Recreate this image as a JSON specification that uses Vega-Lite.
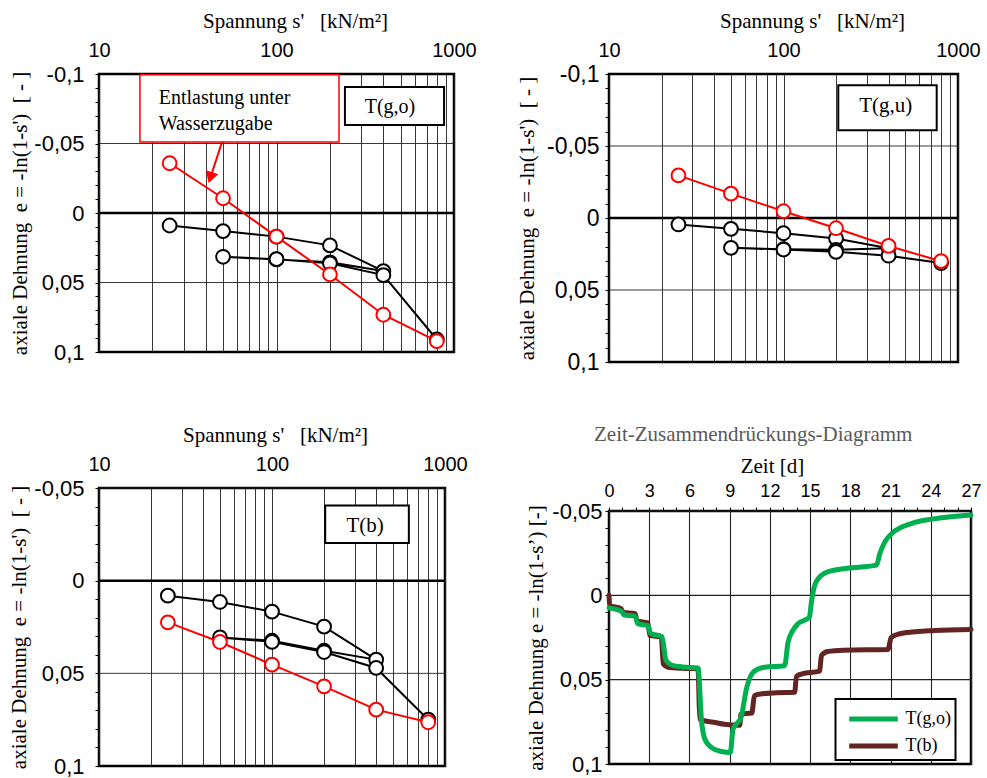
{
  "$schema": "https://vega.github.io/schema/vega-lite/v6.json",
  "padding": {"left": 7, "top": 8, "right": 5, "bottom": 5},
  "background": "white",
  "config": {
    "view": {"stroke": "#000", "strokeWidth": 2.5},
    "font": "Liberation Serif",
    "axis": {"labelFont": "Liberation Sans", "labelFontSize": 20, "labelColor": "#000", "titleFont": "Liberation Serif", "titleFontSize": 21, "titleFontWeight": "normal", "titleColor": "#000", "gridColor": "#222", "tickColor": "#000", "domain": false, "labelOverlap": false, "labelFlush": false, "labelBound": false},
    "legend": {"strokeWidth": 2}
  },
  "datasets": {
    "p1": [
      {"grp": "schwarz", "o": 1, "s": 25, "e": 0.009},
      {"grp": "schwarz", "o": 2, "s": 50, "e": 0.013},
      {"grp": "schwarz", "o": 3, "s": 100, "e": 0.017},
      {"grp": "schwarz", "o": 4, "s": 200, "e": 0.0233},
      {"grp": "schwarz", "o": 5, "s": 400, "e": 0.0418},
      {"grp": "schwarz", "o": 6, "s": 200, "e": 0.0355},
      {"grp": "schwarz", "o": 7, "s": 100, "e": 0.0334},
      {"grp": "schwarz", "o": 8, "s": 50, "e": 0.0315},
      {"grp": "schwarz", "o": 9, "s": 100, "e": 0.0332},
      {"grp": "schwarz", "o": 10, "s": 200, "e": 0.0362},
      {"grp": "schwarz", "o": 11, "s": 400, "e": 0.0447},
      {"grp": "schwarz", "o": 12, "s": 800, "e": 0.091},
      {"grp": "rot", "o": 1, "s": 25, "e": -0.0358},
      {"grp": "rot", "o": 2, "s": 50, "e": -0.0106},
      {"grp": "rot", "o": 3, "s": 100, "e": 0.017},
      {"grp": "rot", "o": 4, "s": 200, "e": 0.0442},
      {"grp": "rot", "o": 5, "s": 400, "e": 0.0732},
      {"grp": "rot", "o": 6, "s": 800, "e": 0.0922}
    ],
    "p2": [
      {"grp": "schwarz", "o": 1, "s": 25, "e": 0.0045},
      {"grp": "schwarz", "o": 2, "s": 50, "e": 0.0075},
      {"grp": "schwarz", "o": 3, "s": 100, "e": 0.0106},
      {"grp": "schwarz", "o": 4, "s": 200, "e": 0.0142},
      {"grp": "schwarz", "o": 5, "s": 400, "e": 0.021},
      {"grp": "schwarz", "o": 6, "s": 200, "e": 0.0221},
      {"grp": "schwarz", "o": 7, "s": 100, "e": 0.0217},
      {"grp": "schwarz", "o": 8, "s": 50, "e": 0.0207},
      {"grp": "schwarz", "o": 9, "s": 100, "e": 0.0219},
      {"grp": "schwarz", "o": 10, "s": 200, "e": 0.0235},
      {"grp": "schwarz", "o": 11, "s": 400, "e": 0.0262},
      {"grp": "schwarz", "o": 12, "s": 800, "e": 0.0313},
      {"grp": "rot", "o": 1, "s": 25, "e": -0.0296},
      {"grp": "rot", "o": 2, "s": 50, "e": -0.0169},
      {"grp": "rot", "o": 3, "s": 100, "e": -0.0047},
      {"grp": "rot", "o": 4, "s": 200, "e": 0.0071},
      {"grp": "rot", "o": 5, "s": 400, "e": 0.0194},
      {"grp": "rot", "o": 6, "s": 800, "e": 0.03}
    ],
    "p3": [
      {"grp": "schwarz", "o": 1, "s": 25, "e": 0.0081},
      {"grp": "schwarz", "o": 2, "s": 50, "e": 0.0115},
      {"grp": "schwarz", "o": 3, "s": 100, "e": 0.0167},
      {"grp": "schwarz", "o": 4, "s": 200, "e": 0.0248},
      {"grp": "schwarz", "o": 5, "s": 400, "e": 0.0426},
      {"grp": "schwarz", "o": 6, "s": 200, "e": 0.0378},
      {"grp": "schwarz", "o": 7, "s": 100, "e": 0.0324},
      {"grp": "schwarz", "o": 8, "s": 50, "e": 0.0306},
      {"grp": "schwarz", "o": 9, "s": 100, "e": 0.033},
      {"grp": "schwarz", "o": 10, "s": 200, "e": 0.0385},
      {"grp": "schwarz", "o": 11, "s": 400, "e": 0.0471},
      {"grp": "schwarz", "o": 12, "s": 800, "e": 0.075},
      {"grp": "rot", "o": 1, "s": 25, "e": 0.0225},
      {"grp": "rot", "o": 2, "s": 50, "e": 0.0331},
      {"grp": "rot", "o": 3, "s": 100, "e": 0.0453},
      {"grp": "rot", "o": 4, "s": 200, "e": 0.057},
      {"grp": "rot", "o": 5, "s": 400, "e": 0.0696},
      {"grp": "rot", "o": 6, "s": 800, "e": 0.0764}
    ],
    "gitter": [{"e": -0.05}, {"e": 0.05}],
    "null": [{"e": 0}],
    "zeit": [
      {"serie": "T(b)", "t": 0, "e": 0},
      {"serie": "T(b)", "t": 0.05, "e": 0.006},
      {"serie": "T(b)", "t": 0.9, "e": 0.0079},
      {"serie": "T(b)", "t": 1.05, "e": 0.01},
      {"serie": "T(b)", "t": 1.95, "e": 0.0109},
      {"serie": "T(b)", "t": 2.1, "e": 0.0152},
      {"serie": "T(b)", "t": 2.9, "e": 0.0163},
      {"serie": "T(b)", "t": 3.05, "e": 0.0238},
      {"serie": "T(b)", "t": 3.9, "e": 0.0248},
      {"serie": "T(b)", "t": 4.05, "e": 0.0407},
      {"serie": "T(b)", "t": 4.4, "e": 0.0426},
      {"serie": "T(b)", "t": 5.5, "e": 0.0433},
      {"serie": "T(b)", "t": 6.64, "e": 0.0436},
      {"serie": "T(b)", "t": 6.77, "e": 0.0734},
      {"serie": "T(b)", "t": 7.2, "e": 0.0745},
      {"serie": "T(b)", "t": 7.9, "e": 0.0754},
      {"serie": "T(b)", "t": 8.6, "e": 0.0764},
      {"serie": "T(b)", "t": 9.75, "e": 0.077},
      {"serie": "T(b)", "t": 9.85, "e": 0.0704},
      {"serie": "T(b)", "t": 10.65, "e": 0.0698},
      {"serie": "T(b)", "t": 10.85, "e": 0.0595},
      {"serie": "T(b)", "t": 11.3, "e": 0.0585},
      {"serie": "T(b)", "t": 12.5, "e": 0.0578},
      {"serie": "T(b)", "t": 13.85, "e": 0.0575},
      {"serie": "T(b)", "t": 13.98, "e": 0.048},
      {"serie": "T(b)", "t": 14.4, "e": 0.0466},
      {"serie": "T(b)", "t": 15.7, "e": 0.045},
      {"serie": "T(b)", "t": 15.85, "e": 0.0357},
      {"serie": "T(b)", "t": 16.3, "e": 0.0333},
      {"serie": "T(b)", "t": 17.5, "e": 0.0325},
      {"serie": "T(b)", "t": 20.8, "e": 0.0321},
      {"serie": "T(b)", "t": 21.05, "e": 0.025},
      {"serie": "T(b)", "t": 21.5, "e": 0.0232},
      {"serie": "T(b)", "t": 22.1, "e": 0.0222},
      {"serie": "T(b)", "t": 24.3, "e": 0.0208},
      {"serie": "T(b)", "t": 27, "e": 0.0202},
      {"serie": "T(g,o)", "t": 0, "e": 0.0075},
      {"serie": "T(g,o)", "t": 0.95, "e": 0.0095},
      {"serie": "T(g,o)", "t": 1.1, "e": 0.0115},
      {"serie": "T(g,o)", "t": 1.95, "e": 0.0125},
      {"serie": "T(g,o)", "t": 2.15, "e": 0.0168},
      {"serie": "T(g,o)", "t": 2.9, "e": 0.018},
      {"serie": "T(g,o)", "t": 3.1, "e": 0.0225},
      {"serie": "T(g,o)", "t": 3.95, "e": 0.0245},
      {"serie": "T(g,o)", "t": 4.25, "e": 0.0385},
      {"serie": "T(g,o)", "t": 4.65, "e": 0.0413},
      {"serie": "T(g,o)", "t": 5.5, "e": 0.0425},
      {"serie": "T(g,o)", "t": 6.64, "e": 0.043},
      {"serie": "T(g,o)", "t": 6.9, "e": 0.0744},
      {"serie": "T(g,o)", "t": 7.15, "e": 0.0853},
      {"serie": "T(g,o)", "t": 7.65, "e": 0.0903},
      {"serie": "T(g,o)", "t": 8.4, "e": 0.0926},
      {"serie": "T(g,o)", "t": 9.05, "e": 0.0932},
      {"serie": "T(g,o)", "t": 9.25, "e": 0.0793},
      {"serie": "T(g,o)", "t": 9.85, "e": 0.0724},
      {"serie": "T(g,o)", "t": 10.25, "e": 0.0555},
      {"serie": "T(g,o)", "t": 10.75, "e": 0.0456},
      {"serie": "T(g,o)", "t": 11.6, "e": 0.0426},
      {"serie": "T(g,o)", "t": 13.1, "e": 0.0417},
      {"serie": "T(g,o)", "t": 13.35, "e": 0.028},
      {"serie": "T(g,o)", "t": 13.7, "e": 0.021},
      {"serie": "T(g,o)", "t": 14.1, "e": 0.0168},
      {"serie": "T(g,o)", "t": 14.95, "e": 0.0129},
      {"serie": "T(g,o)", "t": 15.1, "e": 0.0039},
      {"serie": "T(g,o)", "t": 15.45, "e": -0.008},
      {"serie": "T(g,o)", "t": 16.3, "e": -0.0139},
      {"serie": "T(g,o)", "t": 18.1, "e": -0.0163},
      {"serie": "T(g,o)", "t": 19.95, "e": -0.0179},
      {"serie": "T(g,o)", "t": 20.2, "e": -0.0248},
      {"serie": "T(g,o)", "t": 20.6, "e": -0.032},
      {"serie": "T(g,o)", "t": 21.1, "e": -0.0367},
      {"serie": "T(g,o)", "t": 22.6, "e": -0.0427},
      {"serie": "T(g,o)", "t": 24.1, "e": -0.0452},
      {"serie": "T(g,o)", "t": 27, "e": -0.0476}
    ]
  },
  "spacing": 37,
  "hconcat": [
    {
      "spacing": 57,
      "columns": 1,
      "concat": [
        {
          "width": 355, "height": 278,
          "layer": [
            {
              "data": {"name": "gitter"},
              "mark": {"type": "rule", "color": "#222", "strokeWidth": 0.9},
              "encoding": {
                "y": {"field": "e", "type": "quantitative", "scale": {"domain": [-0.1, 0.1], "reverse": true, "nice": false, "zero": false},
                  "axis": {"title": "axiale Dehnung\u00a0 e = -ln(1-s')\u00a0 [ - ]", "values": [-0.1,-0.09,-0.08,-0.07,-0.06,-0.05,-0.04,-0.03,-0.02,-0.01,0,0.01,0.02,0.03,0.04,0.05,0.06,0.07,0.08,0.09,0.1], "labelExpr": "indexof([-0.1,-0.05,0,0.05,0.1], datum.value) >= 0 ? replace(toString(datum.value), '.', ',') : ''", "labelOverlap": false, "labelFontSize": 22, "tickSize": 4, "labelPadding": 11, "titlePadding": 3.5, "grid": false}}
              }
            },
            {
              "data": {"name": "null"},
              "mark": {"type": "rule", "color": "#000", "strokeWidth": 2.5},
              "encoding": {"y": {"field": "e", "type": "quantitative",
                  "axis": {"title": "axiale Dehnung\u00a0 e = -ln(1-s')\u00a0 [ - ]", "values": [-0.1,-0.09,-0.08,-0.07,-0.06,-0.05,-0.04,-0.03,-0.02,-0.01,0,0.01,0.02,0.03,0.04,0.05,0.06,0.07,0.08,0.09,0.1], "labelExpr": "indexof([-0.1,-0.05,0,0.05,0.1], datum.value) >= 0 ? replace(toString(datum.value), '.', ',') : ''", "labelOverlap": false, "labelFontSize": 22, "tickSize": 4, "labelPadding": 11, "titlePadding": 3.5, "grid": false}}}
            },
            {
              "data": {"name": "p1"},
              "transform": [{"filter": "datum.grp == 'schwarz'"}],
              "mark": {"type": "line", "strokeWidth": 2, "color": "#000"},
              "encoding": {
                "x": {"field": "s", "type": "quantitative", "scale": {"type": "log", "domain": [10, 1000], "nice": false},
                  "axis": {"orient": "top", "title": "Spannung s'\u00a0\u00a0 [kN/m²]", "titleX": 196, "values": [10,20,30,40,50,60,70,80,90,100,200,300,400,500,600,700,800,900,1000], "labelExpr": "datum.value == 10 || datum.value == 100 || datum.value == 1000 ? toString(datum.value) : ''", "labelOverlap": false, "ticks": false, "labelPadding": 14, "titlePadding": 9, "grid": true, "gridWidth": 0.9}},
                "y": {"field": "e", "type": "quantitative",
                  "axis": {"title": "axiale Dehnung\u00a0 e = -ln(1-s')\u00a0 [ - ]", "values": [-0.1,-0.09,-0.08,-0.07,-0.06,-0.05,-0.04,-0.03,-0.02,-0.01,0,0.01,0.02,0.03,0.04,0.05,0.06,0.07,0.08,0.09,0.1], "labelExpr": "indexof([-0.1,-0.05,0,0.05,0.1], datum.value) >= 0 ? replace(toString(datum.value), '.', ',') : ''", "labelOverlap": false, "labelFontSize": 22, "tickSize": 4, "labelPadding": 11, "titlePadding": 3.5, "grid": false}},
                "order": {"field": "o"}
              }
            },
            {
              "data": {"name": "p1"},
              "transform": [{"filter": "datum.grp == 'schwarz'"}],
              "mark": {"type": "point", "shape": "circle", "filled": false, "fill": "white", "fillOpacity": 1, "opacity": 1, "stroke": "#000", "strokeWidth": 2, "size": 190},
              "encoding": {
                "x": {"field": "s", "type": "quantitative",
                  "axis": {"orient": "top", "title": "Spannung s'\u00a0\u00a0 [kN/m²]", "titleX": 196, "values": [10,20,30,40,50,60,70,80,90,100,200,300,400,500,600,700,800,900,1000], "labelExpr": "datum.value == 10 || datum.value == 100 || datum.value == 1000 ? toString(datum.value) : ''", "labelOverlap": false, "ticks": false, "labelPadding": 14, "titlePadding": 9, "grid": true, "gridWidth": 0.9}},
                "y": {"field": "e", "type": "quantitative",
                  "axis": {"title": "axiale Dehnung\u00a0 e = -ln(1-s')\u00a0 [ - ]", "values": [-0.1,-0.09,-0.08,-0.07,-0.06,-0.05,-0.04,-0.03,-0.02,-0.01,0,0.01,0.02,0.03,0.04,0.05,0.06,0.07,0.08,0.09,0.1], "labelExpr": "indexof([-0.1,-0.05,0,0.05,0.1], datum.value) >= 0 ? replace(toString(datum.value), '.', ',') : ''", "labelOverlap": false, "labelFontSize": 22, "tickSize": 4, "labelPadding": 11, "titlePadding": 3.5, "grid": false}}
              }
            },
            {
              "data": {"name": "p1"},
              "transform": [{"filter": "datum.grp == 'rot'"}],
              "mark": {"type": "line", "strokeWidth": 2, "color": "#ff0000"},
              "encoding": {
                "x": {"field": "s", "type": "quantitative",
                  "axis": {"orient": "top", "title": "Spannung s'\u00a0\u00a0 [kN/m²]", "titleX": 196, "values": [10,20,30,40,50,60,70,80,90,100,200,300,400,500,600,700,800,900,1000], "labelExpr": "datum.value == 10 || datum.value == 100 || datum.value == 1000 ? toString(datum.value) : ''", "labelOverlap": false, "ticks": false, "labelPadding": 14, "titlePadding": 9, "grid": true, "gridWidth": 0.9}},
                "y": {"field": "e", "type": "quantitative",
                  "axis": {"title": "axiale Dehnung\u00a0 e = -ln(1-s')\u00a0 [ - ]", "values": [-0.1,-0.09,-0.08,-0.07,-0.06,-0.05,-0.04,-0.03,-0.02,-0.01,0,0.01,0.02,0.03,0.04,0.05,0.06,0.07,0.08,0.09,0.1], "labelExpr": "indexof([-0.1,-0.05,0,0.05,0.1], datum.value) >= 0 ? replace(toString(datum.value), '.', ',') : ''", "labelOverlap": false, "labelFontSize": 22, "tickSize": 4, "labelPadding": 11, "titlePadding": 3.5, "grid": false}},
                "order": {"field": "o"}
              }
            },
            {
              "data": {"name": "p1"},
              "transform": [{"filter": "datum.grp == 'rot'"}],
              "mark": {"type": "point", "shape": "circle", "filled": false, "fill": "white", "fillOpacity": 1, "opacity": 1, "stroke": "#ff0000", "strokeWidth": 2, "size": 190},
              "encoding": {
                "x": {"field": "s", "type": "quantitative",
                  "axis": {"orient": "top", "title": "Spannung s'\u00a0\u00a0 [kN/m²]", "titleX": 196, "values": [10,20,30,40,50,60,70,80,90,100,200,300,400,500,600,700,800,900,1000], "labelExpr": "datum.value == 10 || datum.value == 100 || datum.value == 1000 ? toString(datum.value) : ''", "labelOverlap": false, "ticks": false, "labelPadding": 14, "titlePadding": 9, "grid": true, "gridWidth": 0.9}},
                "y": {"field": "e", "type": "quantitative",
                  "axis": {"title": "axiale Dehnung\u00a0 e = -ln(1-s')\u00a0 [ - ]", "values": [-0.1,-0.09,-0.08,-0.07,-0.06,-0.05,-0.04,-0.03,-0.02,-0.01,0,0.01,0.02,0.03,0.04,0.05,0.06,0.07,0.08,0.09,0.1], "labelExpr": "indexof([-0.1,-0.05,0,0.05,0.1], datum.value) >= 0 ? replace(toString(datum.value), '.', ',') : ''", "labelOverlap": false, "labelFontSize": 22, "tickSize": 4, "labelPadding": 11, "titlePadding": 3.5, "grid": false}}
              }
            },
            {
              "data": {"values": [{"s": 17, "s2": 225, "e": -0.0995, "e2": -0.0511}]},
              "mark": {"type": "rect", "fill": "white", "stroke": "#ff0000", "strokeWidth": 1.5},
              "encoding": {
                "x": {"field": "s", "type": "quantitative",
                  "axis": {"orient": "top", "title": "Spannung s'\u00a0\u00a0 [kN/m²]", "titleX": 196, "values": [10,20,30,40,50,60,70,80,90,100,200,300,400,500,600,700,800,900,1000], "labelExpr": "datum.value == 10 || datum.value == 100 || datum.value == 1000 ? toString(datum.value) : ''", "labelOverlap": false, "ticks": false, "labelPadding": 14, "titlePadding": 9, "grid": true, "gridWidth": 0.9}},
                "x2": {"field": "s2"},
                "y": {"field": "e", "type": "quantitative",
                  "axis": {"title": "axiale Dehnung\u00a0 e = -ln(1-s')\u00a0 [ - ]", "values": [-0.1,-0.09,-0.08,-0.07,-0.06,-0.05,-0.04,-0.03,-0.02,-0.01,0,0.01,0.02,0.03,0.04,0.05,0.06,0.07,0.08,0.09,0.1], "labelExpr": "indexof([-0.1,-0.05,0,0.05,0.1], datum.value) >= 0 ? replace(toString(datum.value), '.', ',') : ''", "labelOverlap": false, "labelFontSize": 22, "tickSize": 4, "labelPadding": 11, "titlePadding": 3.5, "grid": false}},
                "y2": {"field": "e2"}
              }
            },
            {
              "data": {"values": [{"s": 243, "s2": 879, "e": -0.0906, "e2": -0.0633}]},
              "mark": {"type": "rect", "fill": "white", "stroke": "#000", "strokeWidth": 2},
              "encoding": {
                "x": {"field": "s", "type": "quantitative",
                  "axis": {"orient": "top", "title": "Spannung s'\u00a0\u00a0 [kN/m²]", "titleX": 196, "values": [10,20,30,40,50,60,70,80,90,100,200,300,400,500,600,700,800,900,1000], "labelExpr": "datum.value == 10 || datum.value == 100 || datum.value == 1000 ? toString(datum.value) : ''", "labelOverlap": false, "ticks": false, "labelPadding": 14, "titlePadding": 9, "grid": true, "gridWidth": 0.9}},
                "x2": {"field": "s2"},
                "y": {"field": "e", "type": "quantitative",
                  "axis": {"title": "axiale Dehnung\u00a0 e = -ln(1-s')\u00a0 [ - ]", "values": [-0.1,-0.09,-0.08,-0.07,-0.06,-0.05,-0.04,-0.03,-0.02,-0.01,0,0.01,0.02,0.03,0.04,0.05,0.06,0.07,0.08,0.09,0.1], "labelExpr": "indexof([-0.1,-0.05,0,0.05,0.1], datum.value) >= 0 ? replace(toString(datum.value), '.', ',') : ''", "labelOverlap": false, "labelFontSize": 22, "tickSize": 4, "labelPadding": 11, "titlePadding": 3.5, "grid": false}},
                "y2": {"field": "e2"}
              }
            },
            {
              "data": {"values": [{"s": 21.7, "e": -0.0825, "t": "Entlastung unter"}, {"s": 21.7, "e": -0.064, "t": "Wasserzugabe"}, {"s": 314, "e": -0.0765, "t": "T(g,o)"}]},
              "mark": {"type": "text", "font": "Liberation Serif", "fontSize": 20, "align": "left", "baseline": "middle", "color": "#000"},
              "encoding": {
                "x": {"field": "s", "type": "quantitative",
                  "axis": {"orient": "top", "title": "Spannung s'\u00a0\u00a0 [kN/m²]", "titleX": 196, "values": [10,20,30,40,50,60,70,80,90,100,200,300,400,500,600,700,800,900,1000], "labelExpr": "datum.value == 10 || datum.value == 100 || datum.value == 1000 ? toString(datum.value) : ''", "labelOverlap": false, "ticks": false, "labelPadding": 14, "titlePadding": 9, "grid": true, "gridWidth": 0.9}},
                "y": {"field": "e", "type": "quantitative",
                  "axis": {"title": "axiale Dehnung\u00a0 e = -ln(1-s')\u00a0 [ - ]", "values": [-0.1,-0.09,-0.08,-0.07,-0.06,-0.05,-0.04,-0.03,-0.02,-0.01,0,0.01,0.02,0.03,0.04,0.05,0.06,0.07,0.08,0.09,0.1], "labelExpr": "indexof([-0.1,-0.05,0,0.05,0.1], datum.value) >= 0 ? replace(toString(datum.value), '.', ',') : ''", "labelOverlap": false, "labelFontSize": 22, "tickSize": 4, "labelPadding": 11, "titlePadding": 3.5, "grid": false}},
                "text": {"field": "t"}
              }
            },
            {
              "data": {"values": [{"o": 1, "s": 49.3, "e": -0.051}, {"o": 2, "s": 42.4, "e": -0.0254}]},
              "mark": {"type": "line", "strokeWidth": 2, "color": "#ff0000"},
              "encoding": {
                "x": {"field": "s", "type": "quantitative",
                  "axis": {"orient": "top", "title": "Spannung s'\u00a0\u00a0 [kN/m²]", "titleX": 196, "values": [10,20,30,40,50,60,70,80,90,100,200,300,400,500,600,700,800,900,1000], "labelExpr": "datum.value == 10 || datum.value == 100 || datum.value == 1000 ? toString(datum.value) : ''", "labelOverlap": false, "ticks": false, "labelPadding": 14, "titlePadding": 9, "grid": true, "gridWidth": 0.9}},
                "y": {"field": "e", "type": "quantitative",
                  "axis": {"title": "axiale Dehnung\u00a0 e = -ln(1-s')\u00a0 [ - ]", "values": [-0.1,-0.09,-0.08,-0.07,-0.06,-0.05,-0.04,-0.03,-0.02,-0.01,0,0.01,0.02,0.03,0.04,0.05,0.06,0.07,0.08,0.09,0.1], "labelExpr": "indexof([-0.1,-0.05,0,0.05,0.1], datum.value) >= 0 ? replace(toString(datum.value), '.', ',') : ''", "labelOverlap": false, "labelFontSize": 22, "tickSize": 4, "labelPadding": 11, "titlePadding": 3.5, "grid": false}},
                "order": {"field": "o"}
              }
            },
            {
              "data": {"values": [{"s": 42.4, "e": -0.0254}]},
              "mark": {"type": "point", "shape": "triangle-down", "filled": true, "color": "#ff0000", "opacity": 1, "size": 169, "angle": 18},
              "encoding": {
                "x": {"field": "s", "type": "quantitative",
                  "axis": {"orient": "top", "title": "Spannung s'\u00a0\u00a0 [kN/m²]", "titleX": 196, "values": [10,20,30,40,50,60,70,80,90,100,200,300,400,500,600,700,800,900,1000], "labelExpr": "datum.value == 10 || datum.value == 100 || datum.value == 1000 ? toString(datum.value) : ''", "labelOverlap": false, "ticks": false, "labelPadding": 14, "titlePadding": 9, "grid": true, "gridWidth": 0.9}},
                "y": {"field": "e", "type": "quantitative",
                  "axis": {"title": "axiale Dehnung\u00a0 e = -ln(1-s')\u00a0 [ - ]", "values": [-0.1,-0.09,-0.08,-0.07,-0.06,-0.05,-0.04,-0.03,-0.02,-0.01,0,0.01,0.02,0.03,0.04,0.05,0.06,0.07,0.08,0.09,0.1], "labelExpr": "indexof([-0.1,-0.05,0,0.05,0.1], datum.value) >= 0 ? replace(toString(datum.value), '.', ',') : ''", "labelOverlap": false, "labelFontSize": 22, "tickSize": 4, "labelPadding": 11, "titlePadding": 3.5, "grid": false}}
              }
            }
          ]
        },
        {
          "width": 346, "height": 278,
          "layer": [
            {
              "data": {"name": "gitter"},
              "mark": {"type": "rule", "color": "#222", "strokeWidth": 0.9},
              "encoding": {
                "y": {"field": "e", "type": "quantitative", "scale": {"domain": [-0.05, 0.1], "reverse": true, "nice": false, "zero": false},
                  "axis": {"title": "axiale Dehnung\u00a0 e = -ln(1-s')\u00a0 [ - ]", "values": [-0.05,-0.04,-0.03,-0.02,-0.01,0,0.01,0.02,0.03,0.04,0.05,0.06,0.07,0.08,0.09,0.1], "labelExpr": "indexof([-0.05,0,0.05,0.1], datum.value) >= 0 ? replace(toString(datum.value), '.', ',') : ''", "labelOverlap": false, "labelFontSize": 22, "tickSize": 4, "labelPadding": 11, "titlePadding": 4, "grid": false}}
              }
            },
            {
              "data": {"name": "null"},
              "mark": {"type": "rule", "color": "#000", "strokeWidth": 2.5},
              "encoding": {"y": {"field": "e", "type": "quantitative",
                  "axis": {"title": "axiale Dehnung\u00a0 e = -ln(1-s')\u00a0 [ - ]", "values": [-0.05,-0.04,-0.03,-0.02,-0.01,0,0.01,0.02,0.03,0.04,0.05,0.06,0.07,0.08,0.09,0.1], "labelExpr": "indexof([-0.05,0,0.05,0.1], datum.value) >= 0 ? replace(toString(datum.value), '.', ',') : ''", "labelOverlap": false, "labelFontSize": 22, "tickSize": 4, "labelPadding": 11, "titlePadding": 4, "grid": false}}}
            },
            {
              "data": {"name": "p3"},
              "transform": [{"filter": "datum.grp == 'schwarz'"}],
              "mark": {"type": "line", "strokeWidth": 2, "color": "#000"},
              "encoding": {
                "x": {"field": "s", "type": "quantitative", "scale": {"type": "log", "domain": [10, 1000], "nice": false},
                  "axis": {"orient": "top", "title": "Spannung s'\u00a0\u00a0 [kN/m²]", "titleX": 176, "values": [10,20,30,40,50,60,70,80,90,100,200,300,400,500,600,700,800,900,1000], "labelExpr": "datum.value == 10 || datum.value == 100 || datum.value == 1000 ? toString(datum.value) : ''", "labelOverlap": false, "ticks": false, "labelPadding": 14, "titlePadding": 9, "grid": true, "gridWidth": 0.9}},
                "y": {"field": "e", "type": "quantitative",
                  "axis": {"title": "axiale Dehnung\u00a0 e = -ln(1-s')\u00a0 [ - ]", "values": [-0.05,-0.04,-0.03,-0.02,-0.01,0,0.01,0.02,0.03,0.04,0.05,0.06,0.07,0.08,0.09,0.1], "labelExpr": "indexof([-0.05,0,0.05,0.1], datum.value) >= 0 ? replace(toString(datum.value), '.', ',') : ''", "labelOverlap": false, "labelFontSize": 22, "tickSize": 4, "labelPadding": 11, "titlePadding": 4, "grid": false}},
                "order": {"field": "o"}
              }
            },
            {
              "data": {"name": "p3"},
              "transform": [{"filter": "datum.grp == 'schwarz'"}],
              "mark": {"type": "point", "shape": "circle", "filled": false, "fill": "white", "fillOpacity": 1, "opacity": 1, "stroke": "#000", "strokeWidth": 2, "size": 190},
              "encoding": {
                "x": {"field": "s", "type": "quantitative",
                  "axis": {"orient": "top", "title": "Spannung s'\u00a0\u00a0 [kN/m²]", "titleX": 176, "values": [10,20,30,40,50,60,70,80,90,100,200,300,400,500,600,700,800,900,1000], "labelExpr": "datum.value == 10 || datum.value == 100 || datum.value == 1000 ? toString(datum.value) : ''", "labelOverlap": false, "ticks": false, "labelPadding": 14, "titlePadding": 9, "grid": true, "gridWidth": 0.9}},
                "y": {"field": "e", "type": "quantitative",
                  "axis": {"title": "axiale Dehnung\u00a0 e = -ln(1-s')\u00a0 [ - ]", "values": [-0.05,-0.04,-0.03,-0.02,-0.01,0,0.01,0.02,0.03,0.04,0.05,0.06,0.07,0.08,0.09,0.1], "labelExpr": "indexof([-0.05,0,0.05,0.1], datum.value) >= 0 ? replace(toString(datum.value), '.', ',') : ''", "labelOverlap": false, "labelFontSize": 22, "tickSize": 4, "labelPadding": 11, "titlePadding": 4, "grid": false}}
              }
            },
            {
              "data": {"name": "p3"},
              "transform": [{"filter": "datum.grp == 'rot'"}],
              "mark": {"type": "line", "strokeWidth": 2, "color": "#ff0000"},
              "encoding": {
                "x": {"field": "s", "type": "quantitative",
                  "axis": {"orient": "top", "title": "Spannung s'\u00a0\u00a0 [kN/m²]", "titleX": 176, "values": [10,20,30,40,50,60,70,80,90,100,200,300,400,500,600,700,800,900,1000], "labelExpr": "datum.value == 10 || datum.value == 100 || datum.value == 1000 ? toString(datum.value) : ''", "labelOverlap": false, "ticks": false, "labelPadding": 14, "titlePadding": 9, "grid": true, "gridWidth": 0.9}},
                "y": {"field": "e", "type": "quantitative",
                  "axis": {"title": "axiale Dehnung\u00a0 e = -ln(1-s')\u00a0 [ - ]", "values": [-0.05,-0.04,-0.03,-0.02,-0.01,0,0.01,0.02,0.03,0.04,0.05,0.06,0.07,0.08,0.09,0.1], "labelExpr": "indexof([-0.05,0,0.05,0.1], datum.value) >= 0 ? replace(toString(datum.value), '.', ',') : ''", "labelOverlap": false, "labelFontSize": 22, "tickSize": 4, "labelPadding": 11, "titlePadding": 4, "grid": false}},
                "order": {"field": "o"}
              }
            },
            {
              "data": {"name": "p3"},
              "transform": [{"filter": "datum.grp == 'rot'"}],
              "mark": {"type": "point", "shape": "circle", "filled": false, "fill": "white", "fillOpacity": 1, "opacity": 1, "stroke": "#ff0000", "strokeWidth": 2, "size": 190},
              "encoding": {
                "x": {"field": "s", "type": "quantitative",
                  "axis": {"orient": "top", "title": "Spannung s'\u00a0\u00a0 [kN/m²]", "titleX": 176, "values": [10,20,30,40,50,60,70,80,90,100,200,300,400,500,600,700,800,900,1000], "labelExpr": "datum.value == 10 || datum.value == 100 || datum.value == 1000 ? toString(datum.value) : ''", "labelOverlap": false, "ticks": false, "labelPadding": 14, "titlePadding": 9, "grid": true, "gridWidth": 0.9}},
                "y": {"field": "e", "type": "quantitative",
                  "axis": {"title": "axiale Dehnung\u00a0 e = -ln(1-s')\u00a0 [ - ]", "values": [-0.05,-0.04,-0.03,-0.02,-0.01,0,0.01,0.02,0.03,0.04,0.05,0.06,0.07,0.08,0.09,0.1], "labelExpr": "indexof([-0.05,0,0.05,0.1], datum.value) >= 0 ? replace(toString(datum.value), '.', ',') : ''", "labelOverlap": false, "labelFontSize": 22, "tickSize": 4, "labelPadding": 11, "titlePadding": 4, "grid": false}}
              }
            },
            {
              "data": {"values": [{"s": 203, "s2": 618, "e": -0.0406, "e2": -0.0203}]},
              "mark": {"type": "rect", "fill": "white", "stroke": "#000", "strokeWidth": 2},
              "encoding": {
                "x": {"field": "s", "type": "quantitative",
                  "axis": {"orient": "top", "title": "Spannung s'\u00a0\u00a0 [kN/m²]", "titleX": 176, "values": [10,20,30,40,50,60,70,80,90,100,200,300,400,500,600,700,800,900,1000], "labelExpr": "datum.value == 10 || datum.value == 100 || datum.value == 1000 ? toString(datum.value) : ''", "labelOverlap": false, "ticks": false, "labelPadding": 14, "titlePadding": 9, "grid": true, "gridWidth": 0.9}},
                "x2": {"field": "s2"},
                "y": {"field": "e", "type": "quantitative",
                  "axis": {"title": "axiale Dehnung\u00a0 e = -ln(1-s')\u00a0 [ - ]", "values": [-0.05,-0.04,-0.03,-0.02,-0.01,0,0.01,0.02,0.03,0.04,0.05,0.06,0.07,0.08,0.09,0.1], "labelExpr": "indexof([-0.05,0,0.05,0.1], datum.value) >= 0 ? replace(toString(datum.value), '.', ',') : ''", "labelOverlap": false, "labelFontSize": 22, "tickSize": 4, "labelPadding": 11, "titlePadding": 4, "grid": false}},
                "y2": {"field": "e2"}
              }
            },
            {
              "data": {"values": [{"s": 345, "e": -0.0295, "t": "T(b)"}]},
              "mark": {"type": "text", "font": "Liberation Serif", "fontSize": 21, "align": "center", "baseline": "middle", "color": "#000"},
              "encoding": {
                "x": {"field": "s", "type": "quantitative",
                  "axis": {"orient": "top", "title": "Spannung s'\u00a0\u00a0 [kN/m²]", "titleX": 176, "values": [10,20,30,40,50,60,70,80,90,100,200,300,400,500,600,700,800,900,1000], "labelExpr": "datum.value == 10 || datum.value == 100 || datum.value == 1000 ? toString(datum.value) : ''", "labelOverlap": false, "ticks": false, "labelPadding": 14, "titlePadding": 9, "grid": true, "gridWidth": 0.9}},
                "y": {"field": "e", "type": "quantitative",
                  "axis": {"title": "axiale Dehnung\u00a0 e = -ln(1-s')\u00a0 [ - ]", "values": [-0.05,-0.04,-0.03,-0.02,-0.01,0,0.01,0.02,0.03,0.04,0.05,0.06,0.07,0.08,0.09,0.1], "labelExpr": "indexof([-0.05,0,0.05,0.1], datum.value) >= 0 ? replace(toString(datum.value), '.', ',') : ''", "labelOverlap": false, "labelFontSize": 22, "tickSize": 4, "labelPadding": 11, "titlePadding": 4, "grid": false}},
                "text": {"field": "t"}
              }
            }
          ]
        }
      ]
    },
    {
      "spacing": 46,
      "columns": 1,
      "concat": [
        {
          "width": 349, "height": 288,
          "layer": [
            {
              "data": {"name": "gitter"},
              "mark": {"type": "rule", "color": "#222", "strokeWidth": 0.9},
              "encoding": {
                "y": {"field": "e", "type": "quantitative", "scale": {"domain": [-0.1, 0.1], "reverse": true, "nice": false, "zero": false},
                  "axis": {"title": "axiale Dehnung\u00a0 e = -ln(1-s')\u00a0 [ - ]", "values": [-0.1,-0.09,-0.08,-0.07,-0.06,-0.05,-0.04,-0.03,-0.02,-0.01,0,0.01,0.02,0.03,0.04,0.05,0.06,0.07,0.08,0.09,0.1], "labelExpr": "indexof([-0.1,-0.05,0,0.05,0.1], datum.value) >= 0 ? replace(toString(datum.value), '.', ',') : ''", "labelOverlap": false, "labelFontSize": 23, "tickSize": 4, "labelPadding": 6, "titlePadding": 9, "grid": false}}
              }
            },
            {
              "data": {"name": "null"},
              "mark": {"type": "rule", "color": "#000", "strokeWidth": 2.5},
              "encoding": {"y": {"field": "e", "type": "quantitative",
                  "axis": {"title": "axiale Dehnung\u00a0 e = -ln(1-s')\u00a0 [ - ]", "values": [-0.1,-0.09,-0.08,-0.07,-0.06,-0.05,-0.04,-0.03,-0.02,-0.01,0,0.01,0.02,0.03,0.04,0.05,0.06,0.07,0.08,0.09,0.1], "labelExpr": "indexof([-0.1,-0.05,0,0.05,0.1], datum.value) >= 0 ? replace(toString(datum.value), '.', ',') : ''", "labelOverlap": false, "labelFontSize": 23, "tickSize": 4, "labelPadding": 6, "titlePadding": 9, "grid": false}}}
            },
            {
              "data": {"name": "p2"},
              "transform": [{"filter": "datum.grp == 'schwarz'"}],
              "mark": {"type": "line", "strokeWidth": 2, "color": "#000"},
              "encoding": {
                "x": {"field": "s", "type": "quantitative", "scale": {"type": "log", "domain": [10, 1000], "nice": false},
                  "axis": {"orient": "top", "title": "Spannung s'\u00a0\u00a0 [kN/m²]", "titleX": 203, "values": [10,20,30,40,50,60,70,80,90,100,200,300,400,500,600,700,800,900,1000], "labelExpr": "datum.value == 10 || datum.value == 100 || datum.value == 1000 ? toString(datum.value) : ''", "labelOverlap": false, "ticks": false, "labelPadding": 14, "titlePadding": 9, "grid": true, "gridWidth": 0.9}},
                "y": {"field": "e", "type": "quantitative",
                  "axis": {"title": "axiale Dehnung\u00a0 e = -ln(1-s')\u00a0 [ - ]", "values": [-0.1,-0.09,-0.08,-0.07,-0.06,-0.05,-0.04,-0.03,-0.02,-0.01,0,0.01,0.02,0.03,0.04,0.05,0.06,0.07,0.08,0.09,0.1], "labelExpr": "indexof([-0.1,-0.05,0,0.05,0.1], datum.value) >= 0 ? replace(toString(datum.value), '.', ',') : ''", "labelOverlap": false, "labelFontSize": 23, "tickSize": 4, "labelPadding": 6, "titlePadding": 9, "grid": false}},
                "order": {"field": "o"}
              }
            },
            {
              "data": {"name": "p2"},
              "transform": [{"filter": "datum.grp == 'schwarz'"}],
              "mark": {"type": "point", "shape": "circle", "filled": false, "fill": "white", "fillOpacity": 1, "opacity": 1, "stroke": "#000", "strokeWidth": 2, "size": 190},
              "encoding": {
                "x": {"field": "s", "type": "quantitative",
                  "axis": {"orient": "top", "title": "Spannung s'\u00a0\u00a0 [kN/m²]", "titleX": 203, "values": [10,20,30,40,50,60,70,80,90,100,200,300,400,500,600,700,800,900,1000], "labelExpr": "datum.value == 10 || datum.value == 100 || datum.value == 1000 ? toString(datum.value) : ''", "labelOverlap": false, "ticks": false, "labelPadding": 14, "titlePadding": 9, "grid": true, "gridWidth": 0.9}},
                "y": {"field": "e", "type": "quantitative",
                  "axis": {"title": "axiale Dehnung\u00a0 e = -ln(1-s')\u00a0 [ - ]", "values": [-0.1,-0.09,-0.08,-0.07,-0.06,-0.05,-0.04,-0.03,-0.02,-0.01,0,0.01,0.02,0.03,0.04,0.05,0.06,0.07,0.08,0.09,0.1], "labelExpr": "indexof([-0.1,-0.05,0,0.05,0.1], datum.value) >= 0 ? replace(toString(datum.value), '.', ',') : ''", "labelOverlap": false, "labelFontSize": 23, "tickSize": 4, "labelPadding": 6, "titlePadding": 9, "grid": false}}
              }
            },
            {
              "data": {"name": "p2"},
              "transform": [{"filter": "datum.grp == 'rot'"}],
              "mark": {"type": "line", "strokeWidth": 2, "color": "#ff0000"},
              "encoding": {
                "x": {"field": "s", "type": "quantitative",
                  "axis": {"orient": "top", "title": "Spannung s'\u00a0\u00a0 [kN/m²]", "titleX": 203, "values": [10,20,30,40,50,60,70,80,90,100,200,300,400,500,600,700,800,900,1000], "labelExpr": "datum.value == 10 || datum.value == 100 || datum.value == 1000 ? toString(datum.value) : ''", "labelOverlap": false, "ticks": false, "labelPadding": 14, "titlePadding": 9, "grid": true, "gridWidth": 0.9}},
                "y": {"field": "e", "type": "quantitative",
                  "axis": {"title": "axiale Dehnung\u00a0 e = -ln(1-s')\u00a0 [ - ]", "values": [-0.1,-0.09,-0.08,-0.07,-0.06,-0.05,-0.04,-0.03,-0.02,-0.01,0,0.01,0.02,0.03,0.04,0.05,0.06,0.07,0.08,0.09,0.1], "labelExpr": "indexof([-0.1,-0.05,0,0.05,0.1], datum.value) >= 0 ? replace(toString(datum.value), '.', ',') : ''", "labelOverlap": false, "labelFontSize": 23, "tickSize": 4, "labelPadding": 6, "titlePadding": 9, "grid": false}},
                "order": {"field": "o"}
              }
            },
            {
              "data": {"name": "p2"},
              "transform": [{"filter": "datum.grp == 'rot'"}],
              "mark": {"type": "point", "shape": "circle", "filled": false, "fill": "white", "fillOpacity": 1, "opacity": 1, "stroke": "#ff0000", "strokeWidth": 2, "size": 190},
              "encoding": {
                "x": {"field": "s", "type": "quantitative",
                  "axis": {"orient": "top", "title": "Spannung s'\u00a0\u00a0 [kN/m²]", "titleX": 203, "values": [10,20,30,40,50,60,70,80,90,100,200,300,400,500,600,700,800,900,1000], "labelExpr": "datum.value == 10 || datum.value == 100 || datum.value == 1000 ? toString(datum.value) : ''", "labelOverlap": false, "ticks": false, "labelPadding": 14, "titlePadding": 9, "grid": true, "gridWidth": 0.9}},
                "y": {"field": "e", "type": "quantitative",
                  "axis": {"title": "axiale Dehnung\u00a0 e = -ln(1-s')\u00a0 [ - ]", "values": [-0.1,-0.09,-0.08,-0.07,-0.06,-0.05,-0.04,-0.03,-0.02,-0.01,0,0.01,0.02,0.03,0.04,0.05,0.06,0.07,0.08,0.09,0.1], "labelExpr": "indexof([-0.1,-0.05,0,0.05,0.1], datum.value) >= 0 ? replace(toString(datum.value), '.', ',') : ''", "labelOverlap": false, "labelFontSize": 23, "tickSize": 4, "labelPadding": 6, "titlePadding": 9, "grid": false}}
              }
            },
            {
              "data": {"values": [{"s": 206, "s2": 755, "e": -0.0922, "e2": -0.061}]},
              "mark": {"type": "rect", "fill": "white", "stroke": "#000", "strokeWidth": 2},
              "encoding": {
                "x": {"field": "s", "type": "quantitative",
                  "axis": {"orient": "top", "title": "Spannung s'\u00a0\u00a0 [kN/m²]", "titleX": 203, "values": [10,20,30,40,50,60,70,80,90,100,200,300,400,500,600,700,800,900,1000], "labelExpr": "datum.value == 10 || datum.value == 100 || datum.value == 1000 ? toString(datum.value) : ''", "labelOverlap": false, "ticks": false, "labelPadding": 14, "titlePadding": 9, "grid": true, "gridWidth": 0.9}},
                "x2": {"field": "s2"},
                "y": {"field": "e", "type": "quantitative",
                  "axis": {"title": "axiale Dehnung\u00a0 e = -ln(1-s')\u00a0 [ - ]", "values": [-0.1,-0.09,-0.08,-0.07,-0.06,-0.05,-0.04,-0.03,-0.02,-0.01,0,0.01,0.02,0.03,0.04,0.05,0.06,0.07,0.08,0.09,0.1], "labelExpr": "indexof([-0.1,-0.05,0,0.05,0.1], datum.value) >= 0 ? replace(toString(datum.value), '.', ',') : ''", "labelOverlap": false, "labelFontSize": 23, "tickSize": 4, "labelPadding": 6, "titlePadding": 9, "grid": false}},
                "y2": {"field": "e2"}
              }
            },
            {
              "data": {"values": [{"s": 385, "e": -0.0775, "t": "T(g,u)"}]},
              "mark": {"type": "text", "font": "Liberation Serif", "fontSize": 21, "align": "center", "baseline": "middle", "color": "#000"},
              "encoding": {
                "x": {"field": "s", "type": "quantitative",
                  "axis": {"orient": "top", "title": "Spannung s'\u00a0\u00a0 [kN/m²]", "titleX": 203, "values": [10,20,30,40,50,60,70,80,90,100,200,300,400,500,600,700,800,900,1000], "labelExpr": "datum.value == 10 || datum.value == 100 || datum.value == 1000 ? toString(datum.value) : ''", "labelOverlap": false, "ticks": false, "labelPadding": 14, "titlePadding": 9, "grid": true, "gridWidth": 0.9}},
                "y": {"field": "e", "type": "quantitative",
                  "axis": {"title": "axiale Dehnung\u00a0 e = -ln(1-s')\u00a0 [ - ]", "values": [-0.1,-0.09,-0.08,-0.07,-0.06,-0.05,-0.04,-0.03,-0.02,-0.01,0,0.01,0.02,0.03,0.04,0.05,0.06,0.07,0.08,0.09,0.1], "labelExpr": "indexof([-0.1,-0.05,0,0.05,0.1], datum.value) >= 0 ? replace(toString(datum.value), '.', ',') : ''", "labelOverlap": false, "labelFontSize": 23, "tickSize": 4, "labelPadding": 6, "titlePadding": 9, "grid": false}},
                "text": {"field": "t"}
              }
            }
          ]
        },
        {
          "width": 362, "height": 253,
          "title": {"text": "Zeit-Zusammendrückungs-Diagramm", "color": "#595959", "font": "Liberation Serif", "fontSize": 21, "fontWeight": "normal", "frame": "bounds", "anchor": "middle", "offset": 10},
          "layer": [
            {
              "data": {"name": "gitter"},
              "mark": {"type": "rule", "color": "#222", "strokeWidth": 1.1},
              "encoding": {
                "y": {"field": "e", "type": "quantitative", "scale": {"domain": [-0.05, 0.1], "reverse": true, "nice": false, "zero": false},
                  "axis": {"title": "axiale Dehnung e = -ln(1-s’) [-]", "values": [-0.05,-0.04,-0.03,-0.02,-0.01,0,0.01,0.02,0.03,0.04,0.05,0.06,0.07,0.08,0.09,0.1], "labelExpr": "indexof([-0.05,0,0.05,0.1], datum.value) >= 0 ? replace(toString(datum.value), '.', ',') : ''", "labelOverlap": false, "labelFontSize": 22, "tickSize": 4, "labelPadding": 3, "titlePadding": 5.5, "grid": false}}
              }
            },
            {
              "data": {"name": "null"},
              "mark": {"type": "rule", "color": "#222", "strokeWidth": 1.1},
              "encoding": {"y": {"field": "e", "type": "quantitative",
                  "axis": {"title": "axiale Dehnung e = -ln(1-s’) [-]", "values": [-0.05,-0.04,-0.03,-0.02,-0.01,0,0.01,0.02,0.03,0.04,0.05,0.06,0.07,0.08,0.09,0.1], "labelExpr": "indexof([-0.05,0,0.05,0.1], datum.value) >= 0 ? replace(toString(datum.value), '.', ',') : ''", "labelOverlap": false, "labelFontSize": 22, "tickSize": 4, "labelPadding": 3, "titlePadding": 5.5, "grid": false}}}
            },
            {
              "data": {"name": "zeit"},
              "mark": {"type": "line", "strokeWidth": 5, "interpolate": "monotone", "strokeCap": "round", "strokeJoin": "round"},
              "encoding": {
                "x": {"field": "t", "type": "quantitative", "scale": {"domain": [0, 27], "nice": false},
                  "axis": {"orient": "top", "title": "Zeit [d]", "titleX": 163, "values": [0,1,2,3,4,5,6,7,8,9,10,11,12,13,14,15,16,17,18,19,20,21,22,23,24,25,26,27], "labelExpr": "datum.value % 3 == 0 ? toString(datum.value) : ''", "labelOverlap": false, "labelFontSize": 18, "tickSize": 4, "labelPadding": 7, "titlePadding": 6, "grid": true, "gridOpacity": {"condition": {"test": "datum.value % 3 == 0", "value": 1}, "value": 0}, "gridWidth": 1.1}},
                "y": {"field": "e", "type": "quantitative",
                  "axis": {"title": "axiale Dehnung e = -ln(1-s’) [-]", "values": [-0.05,-0.04,-0.03,-0.02,-0.01,0,0.01,0.02,0.03,0.04,0.05,0.06,0.07,0.08,0.09,0.1], "labelExpr": "indexof([-0.05,0,0.05,0.1], datum.value) >= 0 ? replace(toString(datum.value), '.', ',') : ''", "labelOverlap": false, "labelFontSize": 22, "tickSize": 4, "labelPadding": 3, "titlePadding": 5.5, "grid": false}},
                "color": {"field": "serie", "type": "nominal", "scale": {"domain": ["T(g,o)", "T(b)"], "range": ["#00b050", "#632523"]},
                  "legend": {"title": null, "orient": "none", "legendX": 736.5, "legendY": 625, "symbolType": "M-1.8,0H1.8", "symbolStrokeWidth": 5, "symbolSize": 729, "symbolOffset": 18, "labelFont": "Liberation Serif", "labelFontSize": 18, "labelColor": "#000", "strokeColor": "#000", "fillColor": "white", "padding": 4, "rowPadding": 1, "labelOffset": 16}}
              }
            }
          ]
        }
      ]
    }
  ]
}
